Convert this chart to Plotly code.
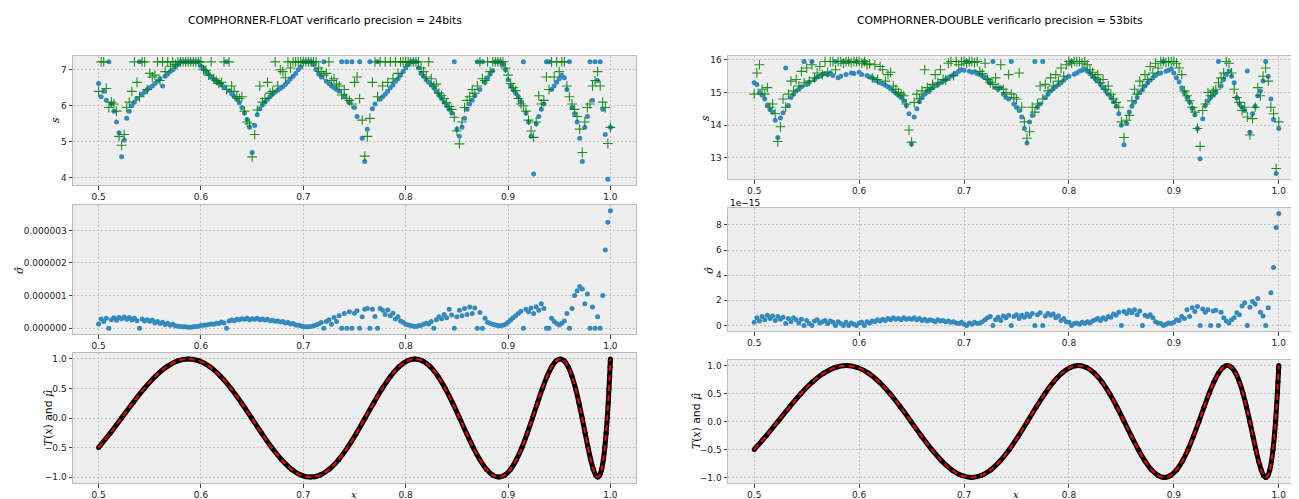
import plotly.graph_objects as go

W, H = 1299, 499

# ---------------- data ----------------
# common sample abscissae of the scatter panels
X = [
    0.5000, 0.5025, 0.5050, 0.5075, 0.5100, 0.5125, 0.5150, 0.5175, 0.5200, 0.5225, 0.5250, 0.5275, 0.5300, 0.5325, 0.5350, 0.5375, 0.5400, 0.5425, 0.5450, 0.5475,
    0.5500, 0.5525, 0.5550, 0.5575, 0.5600, 0.5625, 0.5650, 0.5675, 0.5700, 0.5725, 0.5750, 0.5775, 0.5800, 0.5825, 0.5850, 0.5875, 0.5900, 0.5925, 0.5950, 0.5975,
    0.6000, 0.6025, 0.6050, 0.6075, 0.6100, 0.6125, 0.6150, 0.6175, 0.6200, 0.6225, 0.6250, 0.6275, 0.6300, 0.6325, 0.6350, 0.6375, 0.6400, 0.6425, 0.6450, 0.6475,
    0.6500, 0.6525, 0.6550, 0.6575, 0.6600, 0.6625, 0.6650, 0.6675, 0.6700, 0.6725, 0.6750, 0.6775, 0.6800, 0.6825, 0.6850, 0.6875, 0.6900, 0.6925, 0.6950, 0.6975,
    0.7000, 0.7025, 0.7050, 0.7075, 0.7100, 0.7125, 0.7150, 0.7175, 0.7200, 0.7225, 0.7250, 0.7275, 0.7300, 0.7325, 0.7350, 0.7375, 0.7400, 0.7425, 0.7450, 0.7475,
    0.7500, 0.7525, 0.7550, 0.7575, 0.7600, 0.7625, 0.7650, 0.7675, 0.7700, 0.7725, 0.7750, 0.7775, 0.7800, 0.7825, 0.7850, 0.7875, 0.7900, 0.7925, 0.7950, 0.7975,
    0.8000, 0.8025, 0.8050, 0.8075, 0.8100, 0.8125, 0.8150, 0.8175, 0.8200, 0.8225, 0.8250, 0.8275, 0.8300, 0.8325, 0.8350, 0.8375, 0.8400, 0.8425, 0.8450, 0.8475,
    0.8500, 0.8525, 0.8550, 0.8575, 0.8600, 0.8625, 0.8650, 0.8675, 0.8700, 0.8725, 0.8750, 0.8775, 0.8800, 0.8825, 0.8850, 0.8875, 0.8900, 0.8925, 0.8950, 0.8975,
    0.9000, 0.9025, 0.9050, 0.9075, 0.9100, 0.9125, 0.9150, 0.9175, 0.9200, 0.9225, 0.9250, 0.9275, 0.9300, 0.9325, 0.9350, 0.9375, 0.9400, 0.9425, 0.9450, 0.9475,
    0.9500, 0.9525, 0.9550, 0.9575, 0.9600, 0.9625, 0.9650, 0.9675, 0.9700, 0.9725, 0.9750, 0.9775, 0.9800, 0.9825, 0.9850, 0.9875, 0.9900, 0.9925, 0.9950, 0.9975,
    1.0000,
]

# FLOAT: significant digits s (blue dots / green crosses)
S_FLOAT_A = [
    6.62, 6.25, 6.40, 6.15, 7.22, 6.05, 5.85, 5.55, 5.25, 4.58, 5.05, 5.65, 5.85, 6.00, 6.10, 6.20, 7.22, 6.32, 6.38, 6.45,
    6.50, 6.55, 6.62, 6.68, 6.75, 6.55, 6.82, 6.88, 6.95, 7.00, 7.08, 7.15, 7.22, 7.22, 7.22, 7.22, 7.22, 7.22, 7.22, 7.22,
    7.10, 7.05, 6.95, 6.88, 6.80, 6.74, 6.68, 6.63, 6.58, 6.52, 7.22, 6.42, 6.33, 6.25, 6.18, 6.08, 5.95, 5.80, 5.62, 5.40,
    4.70, 5.45, 5.75, 5.92, 6.02, 6.10, 6.18, 6.25, 6.32, 6.38, 6.43, 6.48, 6.53, 6.60, 6.67, 6.75, 6.82, 6.90, 7.00, 7.08,
    7.22, 7.22, 7.22, 7.22, 7.15, 7.00, 6.88, 6.80, 7.22, 6.68, 6.62, 6.55, 6.50, 6.45, 6.40, 7.22, 6.28, 7.22, 6.10, 7.22,
    5.95, 5.70, 7.22, 5.10, 4.45, 5.35, 7.22, 5.92, 6.05, 7.22, 6.18, 6.25, 6.32, 6.40, 6.50, 6.58, 6.68, 6.75, 6.85, 6.95,
    7.05, 7.15, 7.22, 7.22, 7.22, 7.05, 6.90, 6.82, 6.72, 6.65, 6.58, 6.50, 6.40, 6.30, 6.20, 6.10, 6.00, 5.90, 5.80, 7.22,
    5.35, 5.15, 5.40, 5.65, 5.90, 6.05, 6.15, 6.28, 7.22, 6.45, 7.22, 6.65, 6.78, 6.88, 6.98, 7.22, 7.22, 7.22, 7.15, 7.00,
    6.72, 6.55, 6.45, 6.35, 6.25, 6.12, 7.22, 5.80, 5.55, 5.15, 4.10, 5.50, 5.70, 5.90, 6.05, 7.22, 7.22, 6.45, 6.55, 6.65,
    6.75, 6.85, 6.78, 6.45, 7.22, 5.95, 5.78, 5.55, 5.10, 4.45, 5.40, 5.70, 7.22, 6.15, 7.22, 6.70, 7.22, 5.90, 5.20, 3.96,
    5.40,
]
S_FLOAT_B = [
    6.40, 7.22, 7.22, 6.48, 5.95, 6.10, 6.05, 5.85, 5.15, 4.90, 5.20, 5.95, 6.10, 6.40, 7.22, 6.65, 6.25, 7.22, 7.22, 6.45,
    6.90, 6.80, 6.85, 7.22, 6.70, 7.22, 6.95, 7.22, 7.10, 7.22, 7.15, 7.22, 7.22, 7.22, 7.22, 7.22, 7.22, 7.22, 7.22, 7.22,
    7.22, 7.00, 6.98, 6.85, 7.22, 6.75, 6.70, 6.62, 6.65, 7.22, 6.45, 7.22, 6.55, 6.40, 6.25, 6.20, 6.25, 5.85, 5.55, 5.50,
    4.58, 5.20, 5.88, 6.55, 6.10, 6.20, 6.65, 6.35, 6.40, 7.22, 6.55, 7.00, 6.95, 6.78, 7.22, 7.05, 7.22, 7.22, 7.22, 7.22,
    7.22, 7.22, 7.22, 7.22, 7.22, 7.22, 7.05, 6.95, 6.85, 6.90, 7.22, 6.70, 6.75, 6.60, 6.55, 6.30, 6.45, 6.20, 6.15, 6.05,
    6.65, 6.80, 6.20, 5.60, 4.60, 5.15, 5.65, 6.65, 7.22, 6.25, 7.22, 6.55, 7.22, 6.65, 7.22, 6.75, 7.22, 6.90, 7.22, 7.22,
    7.22, 7.22, 7.22, 7.22, 7.22, 7.22, 7.05, 6.95, 6.80, 7.22, 6.75, 6.55, 6.60, 6.35, 6.28, 6.20, 6.08, 5.98, 5.90, 5.68,
    5.30, 4.94, 5.55, 5.95, 6.15, 6.25, 6.45, 6.35, 6.55, 7.22, 6.75, 6.70, 7.22, 6.95, 7.22, 7.22, 7.22, 7.22, 7.22, 7.05,
    6.85, 6.62, 6.50, 6.42, 6.20, 6.05, 6.00, 5.85, 5.60, 5.30, 5.12, 5.55, 6.28, 6.05, 6.15, 6.80, 6.45, 7.22, 6.80, 7.22,
    6.95, 7.22, 7.22, 6.55, 6.25, 6.05, 5.90, 5.70, 5.35, 4.70, 5.55, 5.95, 6.05, 6.55, 6.70, 6.95, 6.55, 6.10, 5.95, 4.95,
    5.40,
]
# FLOAT: standard deviation sigma-hat, in units of 1e-7
SIG_FLOAT_E7 = [
    1.3, 2.8, 2.0, 3.0, 0.0, 2.6, 3.2, 2.4, 3.3, 2.9, 3.4, 2.7, 3.3, 2.5, 3.0, 2.3, 0.0, 2.8, 2.2, 2.6,
    2.1, 2.5, 1.6, 2.0, 1.4, 1.8, 1.1, 1.5, 0.9, 1.2, 0.7, 0.6, 0.5, 0.4, 0.4, 0.3, 0.3, 0.4, 0.5, 0.6,
    0.8, 0.9, 1.0, 1.1, 1.3, 1.2, 1.5, 1.4, 1.9, 1.6, 0.0, 2.2, 2.5, 2.3, 2.7, 2.6, 2.9, 2.7, 3.0, 2.6,
    2.9, 2.7, 3.0, 2.6, 2.8, 2.5, 2.7, 2.3, 2.4, 2.1, 2.2, 1.9, 2.0, 1.6, 1.7, 1.3, 1.4, 1.0, 0.9, 0.7,
    0.5, 0.4, 0.4, 0.5, 0.7, 1.0, 1.3, 1.7, 0.0, 2.0, 2.6, 1.2, 3.3, 2.0, 3.8, 0.0, 4.5, 0.0, 5.0, 0.0,
    4.6, 5.3, 0.0, 3.5, 5.8, 6.0, 0.0, 5.8, 3.6, 0.0, 6.0, 5.5, 4.2, 5.6, 3.8, 4.6, 2.8, 3.5, 2.2, 1.8,
    1.2, 1.0, 0.8, 0.6, 0.5, 0.7, 0.9, 1.2, 1.5, 1.3, 2.0, 0.0, 2.6, 3.5, 2.9, 4.2, 3.2, 5.8, 4.0, 0.0,
    3.5, 5.5, 3.8, 6.0, 4.2, 6.5, 4.5, 6.2, 0.0, 4.8, 0.0, 3.0, 1.8, 1.5, 1.2, 1.0, 0.8, 0.7, 0.9, 1.2,
    1.8, 2.5, 3.2, 3.8, 4.5, 5.2, 0.0, 5.8, 5.0, 6.2, 4.5, 6.6, 5.5, 7.5, 6.0, 0.0, 0.0, 3.0, 2.0, 1.4,
    1.0, 1.5, 2.2, 4.5, 0.0, 6.0, 10.0, 11.5, 12.8, 12.0, 7.5, 10.5, 0.0, 6.5, 0.0, 3.5, 0.0, 10.0, 24.0, 32.5,
    36.0,
]

# DOUBLE: significant digits s (blue dots / green crosses)
S_DOUBLE_A = [
    15.30, 15.25, 15.00, 14.92, 14.80, 14.62, 14.48, 14.40, 14.15, 13.62, 14.22, 14.38, 15.75, 14.60, 14.85, 14.95, 15.05, 15.10, 15.18, 15.95,
    15.25, 15.32, 15.95, 15.40, 15.48, 15.50, 15.55, 15.58, 15.55, 15.60, 15.52, 15.95, 15.45, 15.50, 15.95, 15.55, 15.95, 15.60, 15.58, 15.95,
    15.62, 15.55, 15.95, 15.52, 15.48, 15.45, 15.38, 15.35, 15.30, 15.27, 15.22, 15.18, 15.12, 15.05, 14.98, 14.92, 14.85, 14.75, 14.60, 14.35,
    13.42, 14.25, 14.50, 14.72, 14.85, 14.95, 15.02, 15.08, 15.15, 15.20, 15.25, 15.30, 15.35, 15.40, 15.45, 15.50, 15.55, 15.60, 15.65, 15.70,
    15.68, 15.95, 15.65, 15.62, 15.64, 15.58, 15.55, 15.50, 15.48, 15.40, 15.30, 15.95, 15.15, 15.10, 15.15, 14.95, 14.85, 14.80, 15.95, 14.65,
    14.55, 14.45, 14.25, 13.90, 13.45, 14.10, 14.30, 15.95, 14.55, 14.65, 15.95, 14.85, 14.95, 15.05, 15.12, 15.18, 15.25, 15.30, 15.38, 15.45,
    15.50, 15.95, 15.56, 15.60, 15.65, 15.68, 15.72, 15.65, 15.58, 15.50, 15.42, 15.35, 15.25, 15.15, 15.05, 14.95, 14.85, 14.72, 14.58, 14.35,
    14.00, 13.40, 14.05, 14.40, 14.58, 14.70, 14.85, 15.00, 15.08, 15.20, 15.30, 15.38, 15.45, 15.52, 15.58, 15.60, 15.95, 15.65, 15.68, 15.72,
    15.60, 15.45, 15.32, 15.15, 15.00, 14.85, 14.70, 14.52, 14.32, 13.90, 12.97, 14.20, 14.60, 14.75, 14.85, 14.92, 15.00, 15.95, 15.20, 15.40,
    15.55, 15.66, 15.50, 15.30, 14.84, 14.65, 14.55, 14.45, 15.66, 13.78, 14.35, 14.58, 14.90, 15.05, 15.35, 15.95, 15.50, 14.80, 14.17, 12.52,
    13.90,
]
S_DOUBLE_B = [
    14.95, 15.60, 15.85, 15.10, 14.95, 15.15, 14.55, 14.65, 14.35, 13.50, 13.95, 14.80, 14.55, 14.95, 15.35, 15.05, 15.40, 15.20, 15.65, 15.30,
    15.75, 15.35, 15.85, 15.45, 15.60, 15.80, 15.55, 15.95, 15.62, 15.95, 15.95, 15.70, 15.95, 15.95, 15.90, 15.95, 15.95, 15.92, 15.95, 15.95,
    15.95, 15.90, 15.95, 15.85, 15.88, 15.45, 15.85, 15.40, 15.80, 15.70, 15.35, 15.55, 15.62, 15.20, 15.10, 15.00, 14.95, 14.90, 14.65, 13.85,
    13.48, 14.70, 14.95, 14.80, 15.05, 15.70, 15.15, 15.10, 15.25, 15.55, 15.30, 15.70, 15.40, 15.38, 15.90, 15.95, 15.52, 15.95, 15.85, 15.95,
    15.95, 15.90, 15.95, 15.95, 15.92, 15.95, 15.65, 15.58, 15.90, 15.40, 15.30, 15.25, 15.45, 15.15, 15.85, 15.10, 15.00, 15.55, 14.95, 14.85,
    14.80, 15.60, 14.55, 14.10, 13.60, 13.80, 14.55, 14.40, 14.65, 15.20, 14.80, 15.25, 15.05, 15.45, 15.20, 15.55, 15.35, 15.75, 15.50, 15.85,
    15.95, 15.90, 15.95, 15.95, 15.95, 15.90, 15.95, 15.85, 15.70, 15.62, 15.45, 15.55, 15.30, 15.40, 15.10, 15.20, 14.95, 14.80, 14.70, 14.55,
    14.10, 13.62, 14.15, 14.30, 14.75, 15.10, 14.95, 15.35, 15.20, 15.55, 15.40, 15.80, 15.60, 15.90, 15.75, 15.95, 15.95, 15.92, 15.95, 15.95,
    15.95, 15.90, 15.75, 15.55, 15.05, 14.90, 14.75, 14.55, 14.40, 13.90, 13.35, 14.45, 14.65, 15.00, 14.90, 15.05, 15.10, 15.30, 15.45, 15.60,
    15.95, 15.90, 15.60, 15.10, 14.85, 14.70, 14.45, 14.55, 14.25, 13.70, 14.20, 14.55, 15.15, 14.90, 15.50, 15.75, 15.35, 14.55, 14.35, 12.67,
    14.10,
]
# DOUBLE: sigma-hat, in units of 1e-15
SIG_DOUBLE_E15 = [
    0.25, 0.60, 0.35, 0.70, 0.45, 0.80, 0.55, 0.75, 0.40, 0.70, 0.50, 0.65, 0.15, 0.55, 0.30, 0.60, 0.45, 0.20, 0.50, 0.00,
    0.40, 0.15, 0.00, 0.35, 0.45, 0.20, 0.30, 0.40, 0.15, 0.35, 0.25, 0.00, 0.30, 0.15, 0.00, 0.25, 0.00, 0.20, 0.10, 0.00,
    0.20, 0.25, 0.00, 0.30, 0.20, 0.35, 0.30, 0.45, 0.35, 0.50, 0.40, 0.55, 0.45, 0.60, 0.50, 0.55, 0.45, 0.60, 0.50, 0.55,
    0.50, 0.60, 0.45, 0.55, 0.40, 0.50, 0.35, 0.45, 0.40, 0.30, 0.45, 0.35, 0.40, 0.30, 0.35, 0.25, 0.30, 0.20, 0.15, 0.25,
    0.10, 0.00, 0.20, 0.10, 0.25, 0.15, 0.20, 0.30, 0.45, 0.60, 0.70, 0.00, 0.45, 0.65, 0.40, 0.75, 0.60, 0.80, 0.00, 0.70,
    0.85, 0.55, 0.80, 0.65, 0.90, 0.70, 0.95, 0.00, 0.85, 1.00, 0.00, 0.75, 0.95, 0.80, 0.90, 0.60, 0.75, 0.40, 0.55, 0.30,
    0.25, 0.00, 0.15, 0.20, 0.10, 0.25, 0.15, 0.30, 0.20, 0.35, 0.45, 0.55, 0.40, 0.60, 0.50, 0.70, 0.65, 0.90, 0.80, 1.05,
    0.00, 1.10, 0.95, 1.20, 1.00, 1.25, 0.85, 1.15, 0.00, 0.80, 0.70, 0.85, 0.60, 0.30, 0.20, 0.15, 0.00, 0.10, 0.20, 0.15,
    0.25, 0.45, 0.40, 0.70, 0.55, 1.25, 0.70, 1.40, 1.10, 1.50, 0.00, 1.30, 1.05, 1.25, 0.00, 1.15, 1.20, 0.00, 1.05, 0.60,
    0.35, 0.20, 0.45, 0.60, 1.00, 0.85, 1.55, 1.80, 0.00, 1.45, 1.90, 1.70, 2.15, 1.05, 0.75, 0.00, 1.40, 2.60, 4.60, 7.80,
    8.90,
]

# bottom panels: reference polynomial T(x) and mean mu-hat, sampled along the curve
X_T = [
    0.50000, 0.51129, 0.52250, 0.53361, 0.54464, 0.55557, 0.56641, 0.57715, 0.58779, 0.59832,
    0.60876, 0.61909, 0.62932, 0.63944, 0.64945, 0.65935, 0.66913, 0.67880, 0.68835, 0.69779,
    0.70711, 0.71630, 0.72537, 0.73432, 0.74314, 0.75184, 0.76041, 0.76884, 0.77715, 0.78532,
    0.79335, 0.80125, 0.80902, 0.81664, 0.82413, 0.83147, 0.83867, 0.84573, 0.85264, 0.85941,
    0.86603, 0.87250, 0.87882, 0.88499, 0.89101, 0.89687, 0.90259, 0.90814, 0.91355, 0.91879,
    0.92388, 0.92881, 0.93358, 0.93819, 0.94264, 0.94693, 0.95106, 0.95502, 0.95882, 0.96246,
    0.96593, 0.96923, 0.97237, 0.97534, 0.97815, 0.98079, 0.98325, 0.98556, 0.98769, 0.98965,
    0.99144, 0.99307, 0.99452, 0.99580, 0.99692, 0.99786, 0.99863, 0.99923, 0.99966, 0.99991,
    1.00000,
]
T_VALS = [
    -0.5, -0.2588, 0.0, 0.2588, 0.5, 0.7071, 0.866, 0.9659,
    1.0, 0.9659, 0.866, 0.7071, 0.5, 0.2588, 0.0, -0.2588, -0.5, -0.7071, -0.866, -0.9659,
    -1.0, -0.9659, -0.866, -0.7071, -0.5, -0.2588, 0.0, 0.2588, 0.5, 0.7071, 0.866, 0.9659,
    1.0, 0.9659, 0.866, 0.7071, 0.5, 0.2588, 0.0, -0.2588, -0.5, -0.7071, -0.866, -0.9659,
    -1.0, -0.9659, -0.866, -0.7071, -0.5, -0.2588, 0.0, 0.2588, 0.5, 0.7071, 0.866, 0.9659,
    1.0, 0.9659, 0.866, 0.7071, 0.5, 0.2588, 0.0, -0.2588, -0.5, -0.7071, -0.866, -0.9659,
    -1.0, -0.9659, -0.866, -0.7071, -0.5, -0.2588, 0.0, 0.2588, 0.5, 0.7071, 0.866, 0.9659,
    1.0,
]
MU_HAT = list(T_VALS)  # the sample mean coincides with T(x) at this scale

for arr in (S_FLOAT_A, S_FLOAT_B, SIG_FLOAT_E7, S_DOUBLE_A, S_DOUBLE_B, SIG_DOUBLE_E15):
    assert len(arr) == len(X), len(arr)
assert len(X_T) == len(T_VALS)

SIG_FLOAT = [v * 1e-7 for v in SIG_FLOAT_E7]
SIG_DOUBLE = [v * 1e-15 for v in SIG_DOUBLE_E15]

TITLES = ["COMPHORNER-FLOAT verificarlo precision = 24bits",
          "COMPHORNER-DOUBLE verificarlo precision = 53bits"]

# ---------------- style ----------------
BLUE = "#348ABD"
GREEN = "#008000"
BG = "#eeeeee"
FONT = "DejaVu Sans"
MATH = "DejaVu Serif"

LEFT = (65, 628)
RIGHT = (720, 1297)
ROWS_L = [(48, 177), (197, 326), (345, 475)]
ROWS_R = [(48, 171), (200, 323), (352, 475)]


def xdom(c):
    return [c[0] / W, c[1] / W]


def ydom(r):
    return [1 - r[1] / H, 1 - r[0] / H]


fig = go.Figure()

panels = [(col, row) for col in range(2) for row in range(3)]


def axn(i):
    return "" if i == 1 else str(i)


s_data = [(S_FLOAT_A, S_FLOAT_B), (S_DOUBLE_A, S_DOUBLE_B)]
sig_data = [SIG_FLOAT, SIG_DOUBLE]

for i, (col, row) in enumerate(panels, start=1):
    xa, ya = "x" + axn(i), "y" + axn(i)
    if row == 0:
        a, b = s_data[col]
        fig.add_trace(go.Scatter(x=X, y=a, mode="markers", xaxis=xa, yaxis=ya,
                                 marker=dict(color=BLUE, size=5, line=dict(width=0)),
                                 showlegend=False))
        fig.add_trace(go.Scatter(x=X, y=b, mode="markers", xaxis=xa, yaxis=ya,
                                 marker=dict(symbol="cross-thin", size=7, color=GREEN,
                                             opacity=0.85,
                                             line=dict(color=GREEN, width=1.1)),
                                 showlegend=False))
    elif row == 1:
        fig.add_trace(go.Scatter(x=X, y=sig_data[col], mode="markers", xaxis=xa, yaxis=ya,
                                 marker=dict(color=BLUE, size=5, line=dict(width=0)),
                                 showlegend=False))
    else:
        fig.add_trace(go.Scatter(x=X_T, y=MU_HAT, mode="lines+markers", xaxis=xa, yaxis=ya,
                                 line=dict(color="black", width=5, shape="spline"),
                                 marker=dict(color="black", size=5),
                                 showlegend=False))
        fig.add_trace(go.Scatter(x=X_T, y=T_VALS, mode="lines", xaxis=xa, yaxis=ya,
                                 line=dict(color="red", width=2, dash="6px,4px", shape="spline"),
                                 showlegend=False))

common = dict(showline=True, mirror=True, linecolor="#bcbcbc", linewidth=1,
              showgrid=True, gridcolor="#c2c2c2", griddash="2px,2px", gridwidth=1,
              zeroline=False, ticks="outside", ticklen=3.5, tickwidth=1, tickcolor="#444",
              tickfont=dict(family=FONT, size=9, color="#222"), automargin=False)

ycfg = {
    (0, 0): dict(range=[3.797, 7.383], tickvals=[4, 5, 6, 7], ticktext=["4", "5", "6", "7"]),
    (0, 1): dict(range=[-0.18e-6, 3.78e-6], tickvals=[0, 1e-6, 2e-6, 3e-6],
                 ticktext=["0.000000", "0.000001", "0.000002", "0.000003"]),
    (0, 2): dict(range=[-1.1, 1.1], tickvals=[-1, -0.5, 0, 0.5, 1],
                 ticktext=["\u22121.0", "\u22120.5", "0.0", "0.5", "1.0"]),
    (1, 0): dict(range=[12.35, 16.12], tickvals=[13, 14, 15, 16], ticktext=["13", "14", "15", "16"]),
    (1, 1): dict(range=[-0.445e-15, 9.345e-15], tickvals=[0, 2e-15, 4e-15, 6e-15, 8e-15],
                 ticktext=["0", "2", "4", "6", "8"]),
    (1, 2): dict(range=[-1.1, 1.1], tickvals=[-1, -0.5, 0, 0.5, 1],
                 ticktext=["\u22121.0", "\u22120.5", "0.0", "0.5", "1.0"]),
}

layout_axes = {}
for i, (col, row) in enumerate(panels, start=1):
    xc = LEFT if col == 0 else RIGHT
    rr = (ROWS_L if col == 0 else ROWS_R)[row]
    layout_axes["xaxis" + axn(i)] = dict(common, domain=xdom(xc), anchor="y" + axn(i),
                                         range=[0.475, 1.025],
                                         tickvals=[0.5, 0.6, 0.7, 0.8, 0.9, 1.0],
                                         ticktext=["0.5", "0.6", "0.7", "0.8", "0.9", "1.0"])
    layout_axes["yaxis" + axn(i)] = dict(common, domain=ydom(rr), anchor="x" + axn(i),
                                         **ycfg[(col, row)])


def ann(text, xpx, ypx, size=10.8, angle=0, family=FONT, xanchor="center", yanchor="middle"):
    return dict(text=text, x=xpx / W, y=1 - ypx / H, xref="paper", yref="paper",
                showarrow=False, textangle=angle, xanchor=xanchor, yanchor=yanchor,
                font=dict(family=family, size=size, color="black"))


mu_lbl = ('<span style="font-family:DejaVu Serif"><i>T</i>(<i>x</i>)</span> and '
          '<span style="font-family:DejaVu Serif"><i>\u03bc\u0302</i></span>')
annotations = [
    ann(TITLES[0], 317, 12),
    ann(TITLES[1], 992, 12),
    ann("<i>s</i>", 47, 112, family=MATH, angle=-90),
    ann("<i>s</i>", 697, 110, family=MATH, angle=-90),
    ann("<i>\u03c3\u0302</i>", 11, 262, family=MATH, angle=-90),
    ann("<i>\u03c3\u0302</i>", 701, 262, family=MATH, angle=-90),
    ann(mu_lbl, 40, 410, angle=-90),
    ann(mu_lbl, 688, 413, angle=-90),
    ann("<i>x</i>", 346, 486, size=10, family=MATH),
    ann("<i>x</i>", 1008, 486, size=10, family=MATH),
    ann("1e\u221215", 720, 195, size=9, xanchor="left"),
]

fig.update_layout(
    template="none",
    width=W, height=H,
    margin=dict(l=0, r=0, t=0, b=0),
    paper_bgcolor="white",
    plot_bgcolor=BG,
    font=dict(family=FONT, size=9, color="#222"),
    showlegend=False,
    annotations=annotations,
    **layout_axes,
)

fig.write_html("out.html")
